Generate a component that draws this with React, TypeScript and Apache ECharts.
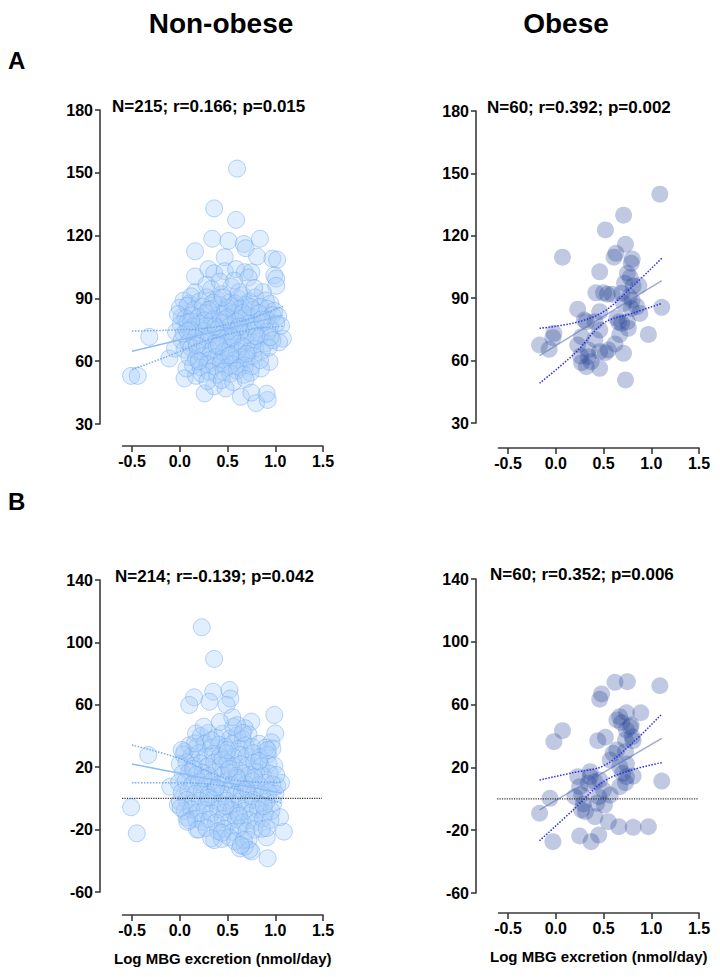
import React, { useEffect, useRef } from "react";
import * as echarts from "echarts";

// ---------- tick labels ----------
const xTicks = [-0.5, 0, 0.5, 1, 1.5];
const yTicksA = [30, 60, 90, 120, 150, 180];
const yTicksB = [-60, -20, 20, 60, 100, 140];

const columnTitles = ["Non-obese", "Obese"];
const rowLabels = ["A", "B"];
const statsTexts = [
  "N=215; r=0.166; p=0.015",
  "N=60; r=0.392; p=0.002",
  "N=214; r=-0.139; p=0.042",
  "N=60; r=0.352; p=0.006",
];
const xAxisTitle = "Log MBG excretion (nmol/day)";

// ---------- Panel A, non-obese: [log MBG, value] ----------
const nonObeseA: number[][] = [
  [0.60, 152], [0.36, 133], [0.59, 127.5], [0.34, 118.5], [0.51, 117.5], [0.84, 118.5], [0.67, 116],
  [0.16, 112.5], [0.47, 109.7], [0.69, 114], [0.81, 110], [0.97, 109], [1.02, 108.5], [0.99, 101],
  [1.01, 99.5], [1.01, 96], [0.16, 100.5], [0.30, 104], [0.36, 102], [0.47, 103], [0.59, 104],
  [0.68, 102.5], [0.75, 102.5], [0.72, 100], [0.16, 93], [0.33, 94.5], [0.54, 95.5], [0.87, 93],
  [0.10, 87.5], [0.95, 87.5], [0.02, 81], [-0.32, 71.6], [-0.51, 53], [-0.44, 53], [-0.11, 61.3],
  [0.05, 51.8], [0.26, 44.6], [0.36, 48], [0.48, 47], [0.64, 43], [0.80, 40], [0.92, 41.5],
  [0.91, 44.5], [0.75, 45], [1.08, 70.8], [1.04, 69], [1.06, 77], [0.94, 59.7], [0.85, 56.5],
  [0.17, 53], [0.07, 56.5], [-0.05, 66],
  [0.04, 89], [0.12, 91], [0.21, 88.5], [0.28, 90.5], [0.39, 89.5], [0.44, 92], [0.52, 88], [0.61, 90],
  [0.66, 91.5], [0.73, 88.5], [0.79, 90.5], [0.9, 89],
  [0.0, 85.5], [0.08, 86.5], [0.15, 84.5], [0.24, 86], [0.33, 85], [0.41, 87], [0.48, 84], [0.56, 86.5],
  [0.63, 85], [0.69, 87], [0.77, 84.5], [0.84, 86], [0.92, 85], [0.99, 84],
  [-0.02, 82.5], [0.06, 80.5], [0.13, 82], [0.2, 81], [0.27, 83], [0.35, 80], [0.42, 82.5], [0.5, 81],
  [0.57, 83], [0.63, 80.5], [0.7, 82], [0.76, 81], [0.83, 83], [0.91, 80], [0.97, 82], [1.03, 81.5],
  [0.01, 77.5], [0.08, 78.5], [0.14, 76.5], [0.21, 78], [0.28, 77], [0.34, 79], [0.4, 76], [0.46, 78.5],
  [0.53, 77], [0.59, 79], [0.66, 76.5], [0.73, 78], [0.8, 77], [0.87, 78.5], [0.94, 76], [1.01, 78],
  [-0.04, 74], [0.04, 73], [0.11, 75], [0.18, 73.5], [0.25, 74.5], [0.31, 72.5], [0.38, 75], [0.45, 73],
  [0.51, 74.5], [0.58, 72.5], [0.64, 74], [0.71, 73], [0.78, 75], [0.85, 72.5], [0.92, 74],
  [0.02, 70], [0.09, 69], [0.16, 71], [0.23, 69.5], [0.3, 70.5], [0.37, 68.5], [0.43, 71], [0.5, 69],
  [0.56, 70.5], [0.62, 68.5], [0.69, 70], [0.76, 69], [0.83, 71], [0.9, 68.5], [0.97, 70],
  [0.05, 65.5], [0.12, 66.5], [0.19, 64.5], [0.26, 66], [0.33, 65], [0.39, 67], [0.46, 64.5], [0.53, 66.5],
  [0.6, 65], [0.66, 67], [0.72, 64.5], [0.79, 66], [0.86, 65], [0.93, 66.5],
  [0.1, 62], [0.17, 61], [0.24, 62.5], [0.31, 60.5], [0.38, 62], [0.44, 61], [0.51, 62.5], [0.57, 60.5],
  [0.64, 62], [0.7, 61], [0.77, 62.5], [0.84, 60.5],
  [0.14, 58], [0.22, 57], [0.29, 58.5], [0.36, 57.5], [0.43, 59], [0.49, 57], [0.55, 58.5], [0.62, 57],
  [0.68, 58], [0.75, 57.5],
  [0.23, 54], [0.31, 55], [0.39, 53.5], [0.46, 55], [0.53, 54], [0.6, 55.5], [0.67, 53.5], [0.74, 54.5],
  [0.29, 50.5], [0.44, 51], [0.56, 50], [0.69, 51.5],
  [0.35, 88], [0.58, 87.5], [0.47, 80], [0.62, 76.5], [0.55, 71.5], [0.41, 67.5], [0.7, 63.5], [0.26, 79.5],
  [0.8, 72], [0.18, 67.5], [0.5, 85.5], [0.66, 83], [0.37, 76.5], [0.86, 80], [0.12, 79], [0.53, 63],
  [0.74, 86], [0.3, 84.5], [0.95, 71.5], [0.2, 60], [0.45, 90.5], [0.62, 93], [0.78, 95], [0.28, 96.5],
  [0.08, 74.5], [0.42, 98], [0.57, 98.5],
];

// ---------- Panel A, obese ----------
const obeseA: number[][] = [
  [1.09, 140], [0.71, 129.9], [0.52, 122.8], [0.07, 109.7], [0.73, 115.9], [0.63, 111.6], [0.61, 109.7],
  [0.80, 108.8], [0.79, 106.8], [0.46, 102.7], [0.75, 102], [0.78, 100], [0.72, 97.2], [0.81, 95.9],
  [0.42, 92.6], [0.50, 92.6], [0.59, 91.9], [0.69, 92.4], [0.77, 90.7], [0.80, 89.1], [0.71, 87.5],
  [0.23, 84.7], [0.46, 83.5], [0.88, 82.7], [1.11, 85.6], [0.64, 80.3], [0.32, 78.7], [0.41, 78.7],
  [0.75, 78.7], [0.76, 75.5], [0.46, 74.7], [-0.02, 73.1], [-0.03, 71], [0.97, 72.6], [0.67, 72.6],
  [0.27, 71.5], [0.41, 70.2], [-0.17, 67.5], [-0.07, 65.4], [0.23, 67.5], [0.62, 68], [0.55, 65.1],
  [0.34, 65.1], [0.46, 64.3], [0.26, 62.2], [0.34, 61.9], [0.71, 63.5], [0.27, 59], [0.37, 59.5],
  [0.32, 57.1], [0.46, 56.3], [0.73, 50.7], [0.52, 63.8], [0.69, 77.9], [0.79, 85.1], [0.66, 78.5],
  [0.54, 91.9], [0.30, 79.5], [0.85, 85.9], [0.87, 96],
];

// ---------- Panel B, non-obese ----------
const nonObeseB: number[][] = [
  [0.23, 109.7], [0.36, 89.4], [0.15, 64.8], [0.10, 59.9], [0.35, 68.4], [0.31, 62], [0.52, 69.5],
  [0.53, 64], [0.49, 60], [0.99, 53.5], [1.0, 41.7], [0.96, 36], [0.97, 32], [0.75, 49.2], [0.68, 45],
  [0.60, 47], [0.17, 41.7], [-0.33, 27.8], [-0.10, 7.5], [-0.51, -5.7], [-0.45, -22.4], [0.05, 30],
  [0.92, -38.4], [1.09, -21.3], [1.05, -12], [0.91, -25], [0.63, -32], [0.75, -34], [0.68, -31],
  [0.36, -26.7], [0.18, -20], [0.07, -12], [-0.02, -4], [1.02, 8], [1.06, 10],
  [0.22, 40], [0.3, 42], [0.38, 39], [0.45, 41.5], [0.53, 38.5], [0.6, 40.5], [0.66, 38], [0.72, 41],
  [0.1, 34], [0.18, 33], [0.26, 35], [0.33, 32.5], [0.41, 34.5], [0.48, 33], [0.55, 35], [0.62, 32],
  [0.69, 34], [0.76, 33], [0.83, 35], [0.9, 32.5],
  [0.04, 28], [0.12, 27], [0.2, 29], [0.27, 26.5], [0.35, 28.5], [0.42, 27], [0.49, 29], [0.56, 26.5],
  [0.63, 28], [0.7, 27], [0.77, 29], [0.84, 26.5], [0.92, 28],
  [0.0, 22], [0.07, 23], [0.15, 21], [0.22, 22.5], [0.29, 20.5], [0.36, 23], [0.43, 21], [0.5, 22.5],
  [0.57, 20.5], [0.64, 22], [0.71, 21], [0.78, 23], [0.85, 20.5], [0.93, 22], [0.99, 21],
  [0.03, 16], [0.1, 17], [0.17, 15], [0.24, 16.5], [0.31, 14.5], [0.38, 17], [0.45, 15], [0.52, 16.5],
  [0.59, 14.5], [0.66, 16], [0.73, 15], [0.8, 17], [0.87, 14.5], [0.94, 16], [1.01, 15],
  [-0.01, 10], [0.06, 11], [0.13, 9], [0.2, 10.5], [0.27, 8.5], [0.34, 11], [0.41, 9], [0.48, 10.5],
  [0.55, 8.5], [0.62, 10], [0.69, 9], [0.76, 11], [0.83, 8.5], [0.9, 10], [0.97, 9],
  [0.02, 4], [0.09, 5], [0.16, 3], [0.23, 4.5], [0.3, 2.5], [0.37, 5], [0.44, 3], [0.51, 4.5],
  [0.58, 2.5], [0.65, 4], [0.72, 3], [0.79, 5], [0.86, 2.5], [0.93, 4], [1.0, 3],
  [0.0, -2], [0.07, -1], [0.14, -3], [0.21, -1.5], [0.28, -3.5], [0.35, -1], [0.42, -3], [0.49, -1.5],
  [0.56, -3.5], [0.63, -2], [0.7, -3], [0.77, -1], [0.84, -3.5], [0.91, -2], [0.98, -3],
  [0.05, -8], [0.12, -7], [0.19, -9], [0.26, -7.5], [0.33, -9.5], [0.4, -7], [0.47, -9], [0.54, -7.5],
  [0.61, -9.5], [0.68, -8], [0.75, -9], [0.82, -7], [0.89, -9.5], [0.96, -8],
  [0.1, -14], [0.17, -13], [0.24, -15], [0.31, -13.5], [0.38, -15.5], [0.45, -13], [0.52, -15],
  [0.59, -13.5], [0.66, -15.5], [0.73, -14], [0.8, -15], [0.87, -13],
  [0.2, -20], [0.28, -19], [0.4, -21], [0.47, -19.5], [0.55, -21.5], [0.62, -19], [0.7, -21], [0.78, -20],
  [0.86, -19.5],
  [0.44, -26], [0.52, -25], [0.58, -27.5], [0.72, -26.5],
  [0.33, 37.4], [0.56, 46], [0.66, 42], [0.92, 31], [0.95, -13.8], [0.91, -19], [0.33, -25.6], [0.44, -22],
  [0.67, -26.7], [0.73, -33], [0.64, -30], [0.08, -15], [0.01, -6], [0.16, 35.3], [0.02, 31], [0.45, 25],
  [0.6, 13], [0.38, 7], [0.52, 19], [0.7, 6], [0.25, 13], [0.83, 24], [0.48, -5], [0.62, -11], [0.3, 0.5],
  [0.78, 13.5], [0.14, 19], [0.5, 31], [0.88, -5], [0.55, 52], [0.42, 49], [0.25, 46],
];

// ---------- Panel B, obese ----------
const obeseB: number[][] = [
  [0.62, 74.2], [0.75, 74.6], [1.09, 72], [0.48, 66.8], [0.46, 63.4], [0.74, 54.8], [0.89, 54.8],
  [0.64, 50.2], [0.69, 48.5], [0.79, 47], [0.74, 43.8], [0.07, 43.4], [-0.02, 36.4], [0.52, 39.2],
  [0.44, 37], [0.73, 37.5], [0.80, 39.6], [0.60, 29], [0.73, 30], [0.57, 24.7], [0.74, 22.2],
  [0.67, 20.4], [0.23, 14.1], [0.36, 14.1], [0.41, 10.9], [0.74, 14.1], [0.81, 14.5], [0.73, 10.3],
  [1.11, 11.3], [0.25, 7.7], [0.50, 5.6], [-0.06, 0.3], [0.27, 2.4], [0.57, 2.4], [0.67, 7.7],
  [-0.17, -9.2], [0.29, -3.3], [0.43, -2.9], [0.51, -4], [0.27, -7.1], [0.41, -11.4], [0.55, -14.6],
  [0.66, -17.8], [0.81, -18.2], [0.97, -17.8], [-0.03, -27.3], [0.25, -23.7], [0.45, -23.1],
  [0.37, -27.3], [0.34, 9.9], [0.70, 16.2], [0.20, 1.3], [0.31, -8.2], [0.46, 12], [0.78, 45.8],
  [0.67, 52.3], [0.36, 17.3], [0.64, 31.1], [0.81, 37], [0.45, 1.3],
];

// ---------- regression lines and 95% bands ----------
const fitNonObeseA = [[-0.5, 64.8], [1.08, 81.9]];
const ciUpperNonObeseA = [[-0.5, 74.4], [-0.14, 74.8], [0.31, 76.0], [0.73, 80.3], [1.08, 86.2]];
const ciLowerNonObeseA = [[-0.5, 56.0], [-0.14, 62.1], [0.31, 70.3], [0.73, 75.1], [1.08, 76.7]];

const fitObeseA = [[-0.17, 62.4], [1.11, 98.4]];
const ciUpperObeseA = [[-0.17, 75.5], [0.2, 78.2], [0.5, 83.5], [0.8, 95.5], [1.11, 109.2]];
const ciLowerObeseA = [[-0.17, 49.1], [0.2, 63.5], [0.5, 78.0], [0.8, 82.7], [1.11, 87.5]];

const fitNonObeseB = [[-0.5, 22.0], [1.07, 3.3]];
const ciUpperNonObeseB = [[-0.5, 34.2], [0.0, 25.5], [0.45, 13.5], [0.8, 10.5], [1.07, 10.3]];
const ciLowerNonObeseB = [[-0.5, 10.1], [0.0, 10.0], [0.45, 8.0], [0.8, 2.0], [1.07, -3.2]];

const fitObeseB = [[-0.17, -7.1], [1.11, 38.5]];
const ciUpperObeseB = [[-0.17, 12.0], [0.2, 16.9], [0.5, 21.0], [0.8, 35.4], [1.11, 54.0]];
const ciLowerObeseB = [[-0.17, -26.7], [0.2, -6.1], [0.5, 11.0], [0.8, 18.4], [1.11, 23.0]];

const zeroLineLeft = [[-0.73, 0], [1.49, 0]];
const zeroLineRight = [[-0.79, 0], [1.49, 0]];

const FONT = "'Liberation Sans', Arial, Helvetica, sans-serif";

export default function App() {
  const ref = useRef<HTMLDivElement>(null);

  useEffect(() => {
    if (!ref.current) return;
    const chart = echarts.init(ref.current, undefined, { renderer: "svg" });

    const panels = [
      { grid: { left: 122.5, top: 110, width: 200.5, height: 314 }, xOff: 22, yMin: 30, yMax: 180, yTicks: yTicksA, pts: nonObeseA, fit: fitNonObeseA, up: ciUpperNonObeseA, lo: ciLowerNonObeseA, light: true, zero: null as any, name: false },
      { grid: { left: 498.5, top: 111, width: 200.5, height: 312 }, xOff: 25, yMin: 30, yMax: 180, yTicks: yTicksA, pts: obeseA, fit: fitObeseA, up: ciUpperObeseA, lo: ciLowerObeseA, light: false, zero: null as any, name: false },
      { grid: { left: 122.5, top: 580, width: 200.5, height: 312 }, xOff: 23, yMin: -60, yMax: 140, yTicks: yTicksB, pts: nonObeseB, fit: fitNonObeseB, up: ciUpperNonObeseB, lo: ciLowerNonObeseB, light: true, zero: zeroLineLeft, name: true },
      { grid: { left: 498.5, top: 579, width: 200.5, height: 314 }, xOff: 20, yMin: -60, yMax: 140, yTicks: yTicksB, pts: obeseB, fit: fitObeseB, up: ciUpperObeseB, lo: ciLowerObeseB, light: false, zero: zeroLineRight, name: true },
    ];

    const axisLine = { show: true, onZero: false, lineStyle: { color: "#3a3a3a", width: 1.6 } };
    const labelStyle = { color: "#000", fontSize: 16, fontWeight: "bold" as const, fontFamily: FONT };

    const series: any[] = [];
    panels.forEach((p, i) => {
      series.push({
        type: "scatter",
        xAxisIndex: i,
        yAxisIndex: i,
        data: p.pts,
        symbolSize: 17,
        itemStyle: p.light
          ? { color: "rgba(165,205,250,0.42)", borderColor: "rgba(110,168,240,0.6)", borderWidth: 1 }
          : { color: "rgba(35,65,150,0.36)", borderWidth: 0 },
        z: 2,
      });
      const fitColor = p.light ? "#8dbbf3" : "rgba(95,115,185,0.6)";
      const ciColor = p.light ? "#78acee" : "#2f2fe8";
      series.push({
        type: "line", xAxisIndex: i, yAxisIndex: i, data: p.fit, symbol: "none",
        lineStyle: { color: fitColor, width: 1.5 }, z: 3,
      });
      [p.up, p.lo].forEach((d) =>
        series.push({
          type: "line", xAxisIndex: i, yAxisIndex: i, data: d, symbol: "none", smooth: 0.35,
          lineStyle: { color: ciColor, width: 1.5, type: "dotted" }, z: 3,
        })
      );
      if (p.zero) {
        series.push({
          type: "line", xAxisIndex: i, yAxisIndex: i, data: p.zero, symbol: "none", clip: false,
          lineStyle: { color: "#333", width: 1.2, type: "dotted" }, z: 4,
        });
      }
    });

    const option: any = {
      animation: false,
      backgroundColor: "#fff",
      grid: panels.map((p) => p.grid),
      xAxis: panels.map((p, i) => ({
        type: "value",
        gridIndex: i,
        min: -0.6,
        max: 1.5,
        offset: p.xOff,
        axisLine,
        splitLine: { show: false },
        axisTick: { show: true, length: 6, lineStyle: { color: "#3a3a3a", width: 1.6 }, customValues: xTicks },
        axisLabel: { ...labelStyle, margin: 7, customValues: xTicks, formatter: (v: number) => v.toFixed(1) },
        name: p.name ? xAxisTitle : "",
        nameLocation: "middle",
        nameGap: 36,
        nameTextStyle: { color: "#000", fontSize: 15, fontWeight: "bold", fontFamily: FONT },
      })),
      yAxis: panels.map((p, i) => ({
        type: "value",
        gridIndex: i,
        min: p.yMin,
        max: p.yMax,
        offset: 22.5,
        axisLine,
        splitLine: { show: false },
        axisTick: { show: true, length: 5, lineStyle: { color: "#3a3a3a", width: 1.6 }, customValues: p.yTicks },
        axisLabel: { ...labelStyle, margin: 7, customValues: p.yTicks },
      })),
      series,
      graphic: [
        { type: "text", x: 221, y: 23, style: { text: columnTitles[0], fill: "#000", font: `bold 28px ${FONT}`, textAlign: "center", textVerticalAlign: "middle" } },
        { type: "text", x: 566, y: 23, style: { text: columnTitles[1], fill: "#000", font: `bold 28px ${FONT}`, textAlign: "center", textVerticalAlign: "middle" } },
        { type: "text", x: 8, y: 60, style: { text: rowLabels[0], fill: "#000", font: `bold 24px ${FONT}`, textAlign: "left", textVerticalAlign: "middle" } },
        { type: "text", x: 8, y: 501, style: { text: rowLabels[1], fill: "#000", font: `bold 24px ${FONT}`, textAlign: "left", textVerticalAlign: "middle" } },
        { type: "text", x: 112, y: 106, style: { text: statsTexts[0], fill: "#000", font: `bold 17px ${FONT}`, textAlign: "left", textVerticalAlign: "middle" } },
        { type: "text", x: 487, y: 107, style: { text: statsTexts[1], fill: "#000", font: `bold 17px ${FONT}`, textAlign: "left", textVerticalAlign: "middle" } },
        { type: "text", x: 115, y: 576, style: { text: statsTexts[2], fill: "#000", font: `bold 17px ${FONT}`, textAlign: "left", textVerticalAlign: "middle" } },
        { type: "text", x: 490, y: 574, style: { text: statsTexts[3], fill: "#000", font: `bold 17px ${FONT}`, textAlign: "left", textVerticalAlign: "middle" } },
      ],
    };

    chart.setOption(option);
    return () => chart.dispose();
  }, []);

  return <div ref={ref} style={{ width: 720, height: 977, position: "absolute", left: 0, top: 0 }} />;
}
